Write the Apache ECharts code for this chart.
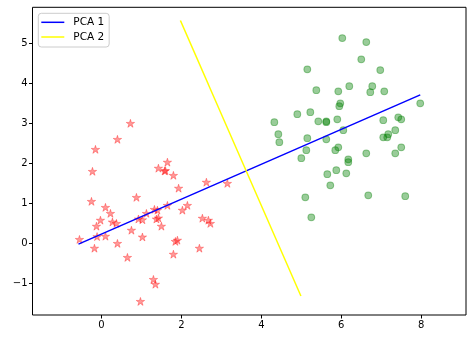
<!DOCTYPE html>
<html><head><meta charset="utf-8">
<script src="https://cdn.jsdelivr.net/npm/echarts@6/dist/echarts.min.js"></script>
<style>html,body{margin:0;padding:0;background:#fff}#c{width:474px;height:341px}</style>
</head><body><div id="c"></div>
<script>
// Class A (red stars)
const redX = [-0.55,-0.175,-0.125,-0.11,-0.15,-0.225,-0.25,-0.025,0.1,0.1,0.225,0.275,0.375,0.4,0.4,0.725,0.65,0.75,0.875,0.925,1.025,1.025,0.975,1.125,1.3,1.35,1.325,1.375,1.425,1.4,1.5,1.425,1.6,1.58,1.65,1.65,1.8,1.93,1.8,1.85,1.9,2.025,2.15,2.45,2.525,2.625,2.675,2.725,3.15];
const redY = [0.09,-0.13,0.42,0.16,2.34,1.79,1.04,0.57,0.89,0.17,0.74,0.525,0.49,-0.01,2.59,2.99,-0.36,0.32,1.14,0.6,0.58,0.15,-1.46,0.74,-0.91,-1.03,0.84,0.6,0.625,0.82,0.42,1.87,1.81,1.8,2.02,0.94,1.69,1.37,-0.28,0.04,0.07,0.82,0.94,-0.13,0.62,1.52,0.57,0.49,1.49];
// Class B (green circles)
const greenX = [4.325,4.425,4.45,4.9,5.0,5.1,5.125,5.15,5.15,5.225,5.25,5.375,5.425,5.625,5.625,5.625,5.65,5.725,5.85,5.875,5.9,5.925,5.925,5.95,5.975,6.025,6.05,6.125,6.175,6.175,6.2,6.5,6.625,6.625,6.675,6.725,6.775,6.975,7.05,7.05,7.075,7.15,7.175,7.35,7.35,7.425,7.5,7.5,7.6,7.975];
const greenY = [3.02,2.72,2.52,3.22,2.12,1.14,2.32,2.62,4.34,3.27,0.64,3.82,3.04,3.04,3.02,2.59,1.72,1.44,2.32,1.82,3.09,2.39,3.79,3.42,3.49,5.12,2.82,1.74,2.09,2.02,3.92,4.59,5.02,2.24,1.19,3.77,3.92,4.32,3.07,2.64,3.79,2.64,2.72,2.82,2.24,3.14,3.09,2.39,1.17,3.49];
// Principal component lines
const pca1X = [-0.575, 7.975];
const pca1Y = [-0.03, 3.70];
const pca2X = [1.975, 4.99];
const pca2Y = [5.56, -1.325];
const xTicks = [0,2,4,6,8];
const yTicks = [-1,0,1,2,3,4,5];

const zip = (a,b) => a.map((v,i)=>[v,b[i]]);
const star = 'path://M0,-1 L0.2245,-0.309 L0.951,-0.309 L0.363,0.118 L0.588,0.809 L0,0.382 L-0.588,0.809 L-0.363,0.118 L-0.951,-0.309 L-0.2245,-0.309 Z';
const lineIcon = 'path://M0,0 M0,5.25 L23,5.25 L23,6.75 L0,6.75 Z M23,12';
const fmt = v => String(v).replace('-', '\u2212');
const font = {fontFamily:'DejaVu Sans', fontSize:10, color:'#000'};

const chart = echarts.init(document.getElementById('c'), null, {renderer:'canvas'});
chart.setOption({
  animation:false,
  backgroundColor:'#fff',
  grid:{left:32.5, top:7.3, right:8, bottom:26, show:true, borderColor:'#000', borderWidth:1, backgroundColor:'#fff'},
  xAxis:{type:'value', min:-1.725, max:9.12, splitLine:{show:false},
    axisLine:{show:false, onZero:false},
    axisTick:{show:true, inside:false, length:3.5, lineStyle:{color:'#000'}, customValues:xTicks},
    axisLabel:{...font, margin:5, customValues:xTicks, formatter:fmt}},
  yAxis:{type:'value', min:-1.8, max:5.89, splitLine:{show:false},
    axisLine:{show:false, onZero:false},
    axisTick:{show:true, inside:false, length:3.5, lineStyle:{color:'#000'}, customValues:yTicks},
    axisLabel:{...font, margin:5, customValues:yTicks, formatter:fmt}},
  legend:{left:38.3, top:13.3, orient:'vertical', itemWidth:23, itemHeight:12, itemGap:2.7,
    padding:[3,5,4,3], borderColor:'#ccc', borderWidth:1, borderRadius:3, backgroundColor:'rgba(255,255,255,0.8)',
    textStyle:{fontFamily:'DejaVu Sans', fontSize:10.5, color:'#000', padding:[0,0,0,4]},
    data:[{name:'PCA 1', icon:lineIcon},{name:'PCA 2', icon:lineIcon}]},
  series:[
    {type:'scatter', name:'A', data:zip(redX,redY), symbol:star, symbolSize:[8.4,8],
     itemStyle:{color:'rgba(255,0,0,0.5)', borderColor:'rgba(255,0,0,0.5)', borderWidth:0.8}},
    {type:'scatter', name:'B', data:zip(greenX,greenY), symbol:'circle', symbolSize:6.8,
     itemStyle:{color:'rgba(0,128,0,0.5)', borderColor:'rgba(0,128,0,0.5)', borderWidth:1}},
    {type:'line', name:'PCA 1', data:zip(pca1X,pca1Y), symbol:'none', lineStyle:{color:'#0000ff', width:1.5}, itemStyle:{color:'#0000ff'}},
    {type:'line', name:'PCA 2', data:zip(pca2X,pca2Y), symbol:'none', lineStyle:{color:'#ffff00', width:1.5}, itemStyle:{color:'#ffff00'}}
  ]
});
</script></body></html>
